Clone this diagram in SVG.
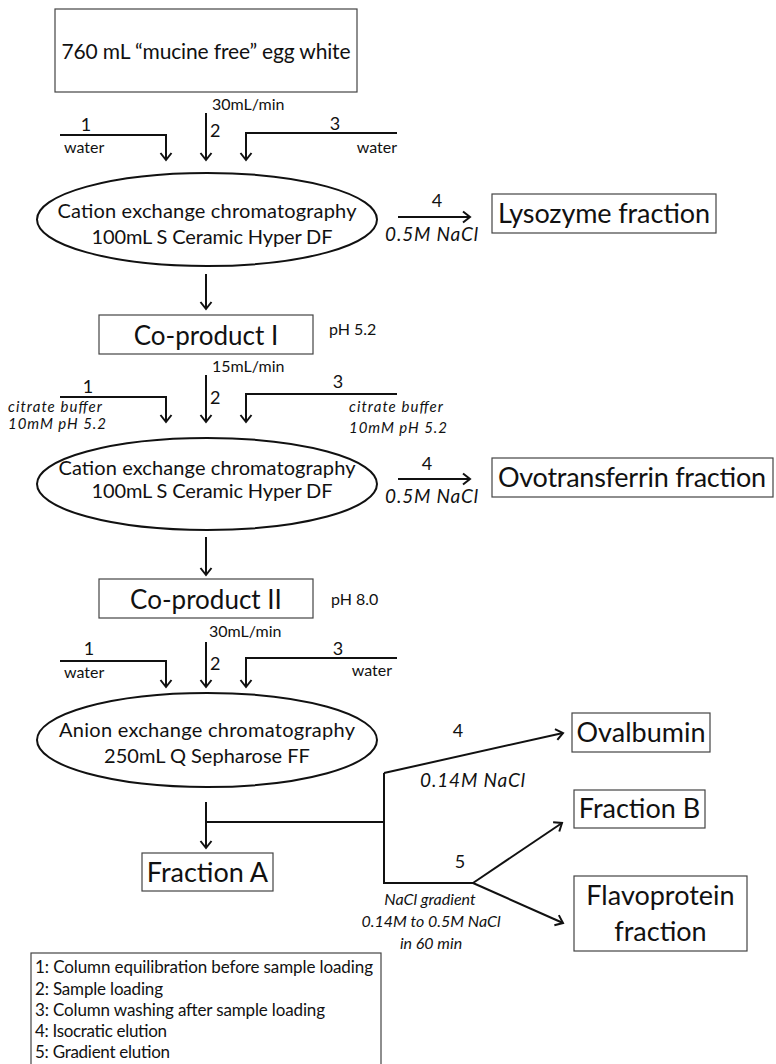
<svg xmlns="http://www.w3.org/2000/svg" width="776" height="1064" viewBox="0 0 776 1064">
<defs>
<marker id="ah" viewBox="-9 -7 11 14" refX="0" refY="0" markerWidth="11" markerHeight="14" markerUnits="userSpaceOnUse" orient="auto">
<path d="M-7,-5.5 L0,0 L-7,5.5" fill="none" stroke="#111" stroke-width="2"/>
</marker>
<style>
text{font-family:Lato,"Open Sans","Liberation Sans",sans-serif;fill:#111}
.box{fill:#fff;stroke:#444;stroke-width:1.2}
.ell{fill:#fff;stroke:#111;stroke-width:2}
.ln{fill:none;stroke:#111;stroke-width:2}
.ar{fill:none;stroke:#111;stroke-width:2;marker-end:url(#ah)}
.big{font-size:27px}
.ell-t{font-size:20px}
.sm{font-size:16px}
.cb{font-size:15px;font-style:italic}
.num{font-size:18px}
.it{font-style:italic}
.lbl{font-size:19px}
.leg{font-size:17px}
</style>
</defs>
<rect width="776" height="1064" fill="#fff"/>

<g id="connectors">
<path class="ar" d="M60,135 H166 V160"/>
<path class="ar" d="M206,113 V160"/>
<path class="ar" d="M397,133 H246 V160"/>
<path class="ar" d="M206,274 V309"/>
<path class="ar" d="M398,217 H470"/>
<path class="ar" d="M60,397 H166 V422"/>
<path class="ar" d="M206,375 V422"/>
<path class="ar" d="M397,394 H246 V422"/>
<path class="ar" d="M206,537 V575"/>
<path class="ar" d="M398,479 H470"/>
<path class="ar" d="M60,661 H166 V687"/>
<path class="ar" d="M206,642 V687"/>
<path class="ar" d="M397,658 H246 V687"/>
<path class="ar" d="M206,802 V848"/>
<path class="ln" d="M206,822 H384"/>
<path class="ln" d="M384,773 V883 H473"/>
<path class="ar" d="M384,773 L563,733"/>
<path class="ar" d="M473,883 L562,823"/>
<path class="ar" d="M473,883 L563,923"/>
</g>

<g id="labels">
<text class="sm" x="212" y="110">30mL/min</text>
<text class="num" x="210" y="137">2</text>
<text class="num" x="86" y="131" text-anchor="middle">1</text>
<text class="sm" x="64" y="153">water</text>
<text class="num" x="335" y="130" text-anchor="middle">3</text>
<text class="sm" x="397" y="153" text-anchor="end">water</text>
<text class="num" x="437" y="207" text-anchor="middle">4</text>
<text class="lbl it" x="385" y="241" textLength="93">0.5M NaCl</text>

<text class="sm" x="329" y="335">pH 5.2</text>
<text class="sm" x="212" y="372">15mL/min</text>
<text class="num" x="210" y="404">2</text>
<text class="num" x="88" y="393" text-anchor="middle">1</text>
<text class="cb" x="8" y="412" textLength="94">citrate buffer</text>
<text class="cb" x="8" y="429" textLength="98">10mM pH 5.2</text>
<text class="num" x="338" y="388" text-anchor="middle">3</text>
<text class="cb" x="349" y="412" textLength="94">citrate buffer</text>
<text class="cb" x="349" y="433" textLength="98">10mM pH 5.2</text>
<text class="num" x="427" y="470" text-anchor="middle">4</text>
<text class="lbl it" x="385" y="503" textLength="93">0.5M NaCl</text>

<text class="sm" x="331" y="605">pH 8.0</text>
<text class="sm" x="209" y="637">30mL/min</text>
<text class="num" x="210" y="670">2</text>
<text class="num" x="89" y="655" text-anchor="middle">1</text>
<text class="sm" x="64" y="678">water</text>
<text class="num" x="338" y="655" text-anchor="middle">3</text>
<text class="sm" x="392" y="676" text-anchor="end">water</text>
<text class="num" x="458" y="737" text-anchor="middle">4</text>
<text class="lbl it" x="420" y="787" textLength="105">0.14M NaCl</text>
<text class="num" x="460" y="868" text-anchor="middle">5</text>
<text class="sm it" x="430" y="905" text-anchor="middle" font-size="17">NaCl gradient</text>
<text class="sm it" x="431" y="927" text-anchor="middle" font-size="17">0.14M to 0.5M NaCl</text>
<text class="sm it" x="431" y="949" text-anchor="middle" font-size="17">in 60 min</text>
</g>

<g id="n-start">
<rect class="box" x="55" y="9" width="302" height="83"/>
<text x="206" y="59" font-size="21" text-anchor="middle" textLength="289">760 mL “mucine free” egg white</text>
</g>

<g id="n-cex1">
<ellipse class="ell" cx="207" cy="219.5" rx="170" ry="46.5"/>
<text class="ell-t" x="207" y="218" text-anchor="middle" textLength="299">Cation exchange chromatography</text>
<text class="ell-t" x="212" y="244" text-anchor="middle" textLength="241">100mL S Ceramic Hyper DF</text>
</g>

<g id="n-lysozyme">
<rect class="box" x="492" y="194" width="224" height="39"/>
<text class="big" x="604" y="223" text-anchor="middle" textLength="212">Lysozyme fraction</text>
</g>

<g id="n-coprod1">
<rect class="box" x="99" y="315" width="214" height="39"/>
<text x="206" y="345" font-size="26" text-anchor="middle">Co-product I</text>
</g>

<g id="n-cex2">
<ellipse class="ell" cx="207" cy="484" rx="170" ry="46"/>
<text class="ell-t" x="207" y="475" text-anchor="middle" textLength="297" font-size="19">Cation exchange chromatography</text>
<text class="ell-t" x="212" y="498" text-anchor="middle" textLength="241" font-size="19">100mL S Ceramic Hyper DF</text>
</g>

<g id="n-ovotransferrin">
<rect class="box" x="492" y="458" width="281" height="39"/>
<text class="big" x="632" y="487" text-anchor="middle" textLength="268">Ovotransferrin fraction</text>
</g>

<g id="n-coprod2">
<rect class="box" x="99" y="579" width="214" height="39"/>
<text x="206" y="609" font-size="26" text-anchor="middle">Co-product II</text>
</g>

<g id="n-aex">
<ellipse class="ell" cx="207" cy="740" rx="170" ry="47"/>
<text class="ell-t" x="207" y="737" text-anchor="middle" textLength="296">Anion exchange chromatography</text>
<text class="ell-t" x="207" y="763" text-anchor="middle">250mL Q Sepharose FF</text>
</g>

<g id="n-ovalbumin">
<rect class="box" x="572" y="713" width="138" height="39"/>
<text class="big" x="641" y="742" text-anchor="middle">Ovalbumin</text>
</g>

<g id="n-fractionB">
<rect class="box" x="574" y="790" width="131" height="38"/>
<text class="big" x="639.5" y="818" text-anchor="middle">Fraction B</text>
</g>

<g id="n-flavoprotein">
<rect class="box" x="574" y="876" width="173" height="75"/>
<text class="big" x="660.5" y="905" text-anchor="middle">Flavoprotein</text>
<text class="big" x="660.5" y="941" text-anchor="middle">fraction</text>
</g>

<g id="n-fractionA">
<rect class="box" x="142" y="853" width="131" height="38"/>
<text class="big" x="207.5" y="882" text-anchor="middle">Fraction A</text>
</g>

<g id="legend">
<rect class="box" x="31" y="953" width="350" height="120"/>
<text class="leg" x="35" y="973" textLength="338">1: Column equilibration before sample loading</text>
<text class="leg" x="35" y="995" textLength="128">2: Sample loading</text>
<text class="leg" x="35" y="1016" textLength="290">3: Column washing after sample loading</text>
<text class="leg" x="35" y="1037" textLength="132">4: Isocratic elution</text>
<text class="leg" x="35" y="1058" textLength="135">5: Gradient elution</text>
</g>
</svg>
